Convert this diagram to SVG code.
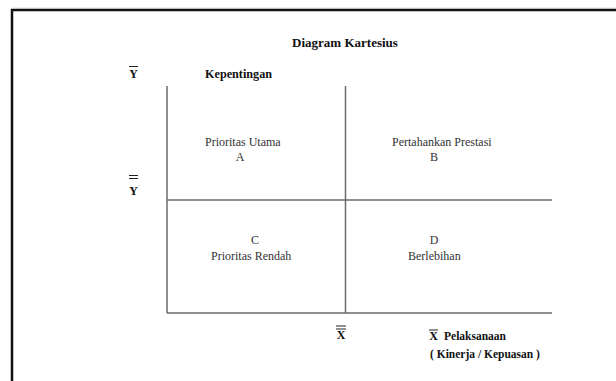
<svg xmlns="http://www.w3.org/2000/svg" width="616" height="381" viewBox="0 0 616 381">
<style>
.t{font-family:"Liberation Serif","Times New Roman",serif;fill:#333;font-size:12px}
.b{font-family:"Liberation Serif","Times New Roman",serif;font-weight:bold;fill:#111}
.ax{stroke:#6a6a6a;stroke-width:1.5;fill:none}
.bar{stroke:#222;stroke-width:1;fill:none}
</style>
<rect width="616" height="381" fill="#fff"/>
<path d="M12,381 V10 H616" fill="none" stroke="#111" stroke-width="2.5"/>
<line x1="12" y1="8.3" x2="616" y2="8.3" stroke="#bbb" stroke-width="1"/>
<g id="title">
<text class="b" x="345" y="47" font-size="13" text-anchor="middle">Diagram Kartesius</text>
</g>
<g id="y-axis-label">
<line class="bar" x1="129" y1="66.5" x2="138" y2="66.5"/>
<text class="b" x="133.5" y="78" font-size="12" text-anchor="middle">Y</text>
<text class="b" x="205" y="78" font-size="12.2">Kepentingan</text>
</g>
<g id="y-mean">
<line class="bar" x1="129" y1="175.5" x2="138" y2="175.5"/>
<line class="bar" x1="129" y1="178.5" x2="138" y2="178.5"/>
<text class="b" x="133.5" y="194.5" font-size="12" text-anchor="middle">Y</text>
</g>
<g id="x-mean">
<line class="bar" x1="336" y1="326" x2="346" y2="326"/>
<line class="bar" x1="336" y1="329" x2="346" y2="329"/>
<text class="b" x="341" y="339" font-size="12" text-anchor="middle">X</text>
</g>
<g id="x-axis-label">
<line class="bar" x1="429" y1="330" x2="438" y2="330"/>
<text class="b" x="433.5" y="339.5" font-size="12" text-anchor="middle">X</text>
<text class="b" x="444" y="339.5" font-size="11.5">Pelaksanaan</text>
<text class="b" x="430" y="357.5" font-size="11.5">( Kinerja / Kepuasan )</text>
</g>
<g id="connectors">
<line class="ax" x1="167" y1="86" x2="167" y2="313"/>
<line class="ax" x1="345.5" y1="86" x2="345.5" y2="313"/>
<line class="ax" x1="167" y1="200" x2="552" y2="200"/>
<line class="ax" x1="167" y1="313" x2="552" y2="313"/>
</g>
<g id="quadrant-a">
<text class="t" x="205" y="146">Prioritas Utama</text>
<text class="t" x="240" y="160.5" text-anchor="middle">A</text>
</g>
<g id="quadrant-b">
<text class="t" x="392" y="146">Pertahankan Prestasi</text>
<text class="t" x="434" y="160.5" text-anchor="middle">B</text>
</g>
<g id="quadrant-c">
<text class="t" x="255" y="244" text-anchor="middle">C</text>
<text class="t" x="211" y="259.5">Prioritas Rendah</text>
</g>
<g id="quadrant-d">
<text class="t" x="434" y="244" text-anchor="middle">D</text>
<text class="t" x="408" y="259.5">Berlebihan</text>
</g>
</svg>
